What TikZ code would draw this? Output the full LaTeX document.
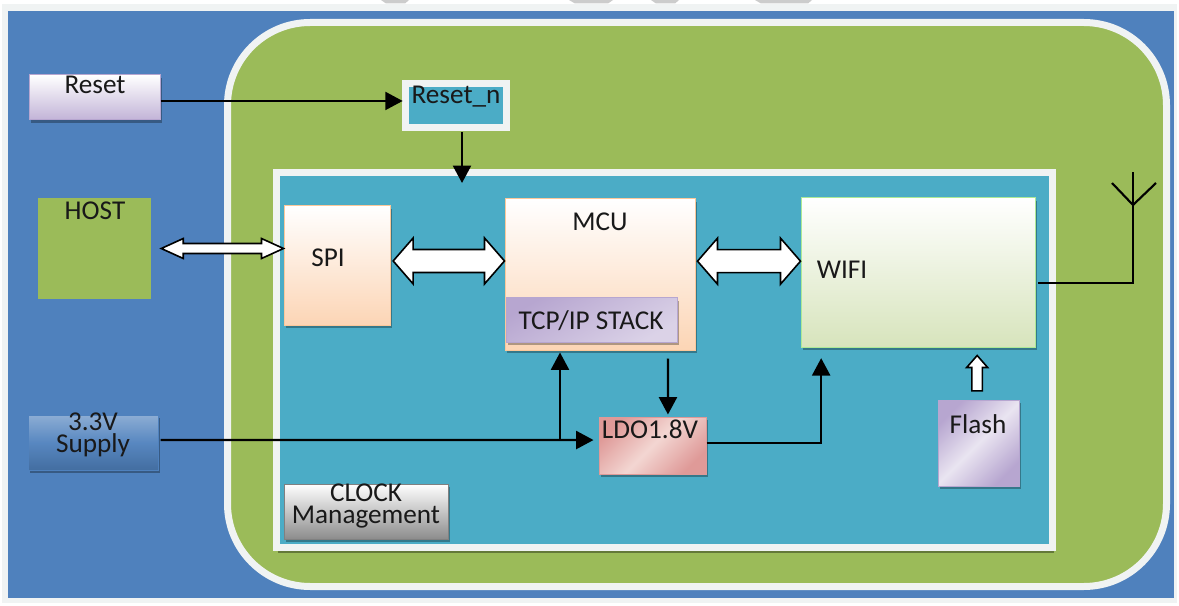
\documentclass[tikz,border=0pt]{standalone}
\usepackage{fontspec}
\setmainfont{Carlito}
\usetikzlibrary{arrows.meta,shadows,calc}
\definecolor{panel}{HTML}{4F81BD}
\definecolor{leaf}{HTML}{9BBB59}
\definecolor{teal}{HTML}{4BACC6}
\definecolor{edge}{HTML}{F0F3F3}
\definecolor{peach}{HTML}{FCD5B5}
\definecolor{lilac}{HTML}{B7A6D0}
\definecolor{mint}{HTML}{D7E4BC}
\definecolor{rosy}{HTML}{DF9A98}
\definecolor{blush}{HTML}{F3D6D2}
\tikzset{
  size/.style 2 args={minimum width=#1*0.75pt,minimum height=#2*0.75pt},
  label/.style={font=\fontsize{20.4pt}{16pt}\selectfont,text=black!90,inner sep=0pt,align=center},
  box/.style={shade,inner sep=0pt,line width=.75pt,general shadow={shadow xshift=1.5pt,shadow yshift=-2.5pt,fill=black,opacity=.3}},
  frame/.style={draw=edge,fill=#1,line width=5.25pt,inner sep=0pt},
  line/.style={line width=1.6pt,black},
  tip/.style={line,-{Triangle[length=13pt,width=13.5pt]}},
  fatarrow/.style 2 args={draw=black,line width=1.2pt,fill=white,
    to path={let \p1=(\tikztostart),\p2=(\tikztotarget),\n1={#1*0.75pt},\n3={#2*0.75pt} in
      (\x1,\y1) -- (\x1+\n3,\y1+\n1) -- (\x1+\n3,\y1+\n1*0.5) -- (\x2-\n3,\y1+\n1*0.5) -- (\x2-\n3,\y1+\n1)
      -- (\x2,\y1) -- (\x2-\n3,\y1-\n1) -- (\x2-\n3,\y1-\n1*0.5) -- (\x1+\n3,\y1-\n1*0.5) -- (\x1+\n3,\y1-\n1) -- cycle}},
  fatup/.style 2 args={draw=black,line width=1.2pt,fill=white,
    to path={let \p1=(\tikztostart),\p2=(\tikztotarget),\n1={#1*0.75pt},\n3={#2*0.75pt} in
      (\x1-\n1*0.5,\y1) -- (\x1-\n1*0.5,\y2-\n3) -- (\x1-\n1,\y2-\n3) -- (\x1,\y2) -- (\x1+\n1,\y2-\n3)
      -- (\x1+\n1*0.5,\y2-\n3) -- (\x1+\n1*0.5,\y1) -- cycle}},
}
\begin{document}
\begin{tikzpicture}[x=0.75pt,y=-0.75pt]
\useasboundingbox (0,0) rectangle (1179,606);
\fill[white] (0,0) rectangle (1179,606);
\fill[edge] (2,4) rectangle (1177,603);
\fill[black!20] (381,0) -- (409,0) -- (405,3.5) -- (386,3.5) -- cycle;
\fill[black!20] (569,0) -- (613,0) -- (608,3.5) -- (575,3.5) -- cycle;
\fill[black!20] (651,0) -- (679,0) -- (675,3.5) -- (656,3.5) -- cycle;
\fill[black!20] (755,0) -- (812,0) -- (808,3.5) -- (761,3.5) -- cycle;
\node[fill=panel,inner sep=0pt,size={1166}{587}] (board) at (591,304.5) {};
\node[draw=edge,fill=leaf,line width=5.25pt,inner sep=0pt,rounded corners=62pt,size={939}{564}] (module) at (697,304.5) {};
\node[frame=teal,size={776}{375},general shadow={shadow xshift=1pt,shadow yshift=-4pt,fill=black,opacity=.35}] (chip) at (664.5,360) {};
\node[frame=teal,size={101}{44},general shadow={shadow xshift=2pt,shadow yshift=-2.5pt,fill=black,opacity=.3}] (resetn) at (456,105.5) {};
\node[label] (resetntxt) at (456,97) {Reset\_n};

\node[box,draw=lilac,top color=white,bottom color=lilac!85,size={131}{45}] (reset) at (94.5,97.5) {};
\node[label] (resettxt) at (95,85) {Reset};
\node[fill=leaf,inner sep=0pt,size={113}{101}] (host) at (94.5,248.5) {};
\node[label] (hosttxt) at (95,211) {HOST};
\node[box,draw=panel,top color=panel!65!white,bottom color=panel!85!black,middle color=panel!95,size={130}{55}] (supply) at (93,442.5) {};
\node[label] (supplytxt) at (93,435) {3.3V\\Supply};

\node[box,draw=peach!85!orange,top color=white,bottom color=peach,size={106}{119}] (spi) at (337,265.5) {};
\node[label] (spitxt) at (328,258) {SPI};
\node[box,draw=peach!85!orange,top color=white,bottom color=peach,size={190}{151}] (mcu) at (600,274.5) {};
\node[label] (mcutxt) at (600,222) {MCU};
\node[box,draw=lilac,left color=lilac,right color=lilac!50,shading angle=30,size={171}{44}] (stack) at (591.5,320) {};
\node[label] (stacktxt) at (591,321) {TCP/IP STACK};
\node[box,draw=mint!80!green,top color=white,bottom color=mint,size={234}{149}] (wifi) at (918,272.5) {};
\node[label] (wifitxt) at (842,270) {WIFI};
\node[box,draw=rosy,left color=rosy,right color=rosy,middle color=blush,shading angle=45,size={107}{57}] (ldo) at (652.5,445.5) {};
\node[label] (ldotxt) at (650,429) {LDO1.8V};
\node[box,draw=lilac,left color=lilac,right color=lilac,middle color=lilac!30,shading angle=45,size={81}{86}] (flash) at (978.5,443) {};
\node[label] (flashtxt) at (978,424) {Flash};
\node[box,draw=black!50,top color=white,bottom color=black!45,size={164}{55}] (clock) at (366,511.5) {};
\node[label] (clocktxt) at (366,506) {CLOCK\\Management};

% power and reset lines
\coordinate (chipin) at (462,183);
\draw[tip] ([yshift=-2.6pt]reset.east) -- ([xshift=0.5pt,yshift=3.4pt]resetn.west);
\draw[tip] ([xshift=4.5pt,yshift=-1pt]resetn.south) -- (chipin);
\draw[tip] ([shift={(1.5pt,1.9pt)}]supply.east) -- ([shift={(-3.75pt,4.1pt)}]ldo.west);
\coordinate (fork) at (560,440);
\draw[tip] (fork) -- ([yshift=-1.5pt]fork |- mcu.south);
\draw[tip] ([shift={(51pt,-6pt)}]mcu.south) -- ([shift={(11.6pt,1.5pt)}]ldo.north);
\draw[tip] ([yshift=1.9pt]ldo.east) -| ([shift={(15.5pt,-8pt)}]wifi.south west);

% data paths
\draw[fatarrow={10}{22}] ([xshift=7.5pt]host.east) to (spi.west);
\draw[fatarrow={23}{20}] ([shift={(2pt,3.4pt)}]spi.east) to (mcu.west);
\draw[fatarrow={23}{20}] ([shift={(1.5pt,10pt)}]mcu.east) to (wifi.west);
\draw[fatup={10.5}{12}] ([shift={(-1pt,6.5pt)}]flash.north) to ([shift={(0pt,-6pt)}]wifi.south);

% antenna
\coordinate (top) at (1133,172);
\coordinate (mast) at (1133,205);
\draw[line] ([shift={(2pt,-8pt)}]wifi.east) -| (top);
\draw[line] (1112,183) -- (mast) -- (1156,183);
\end{tikzpicture}
\end{document}
